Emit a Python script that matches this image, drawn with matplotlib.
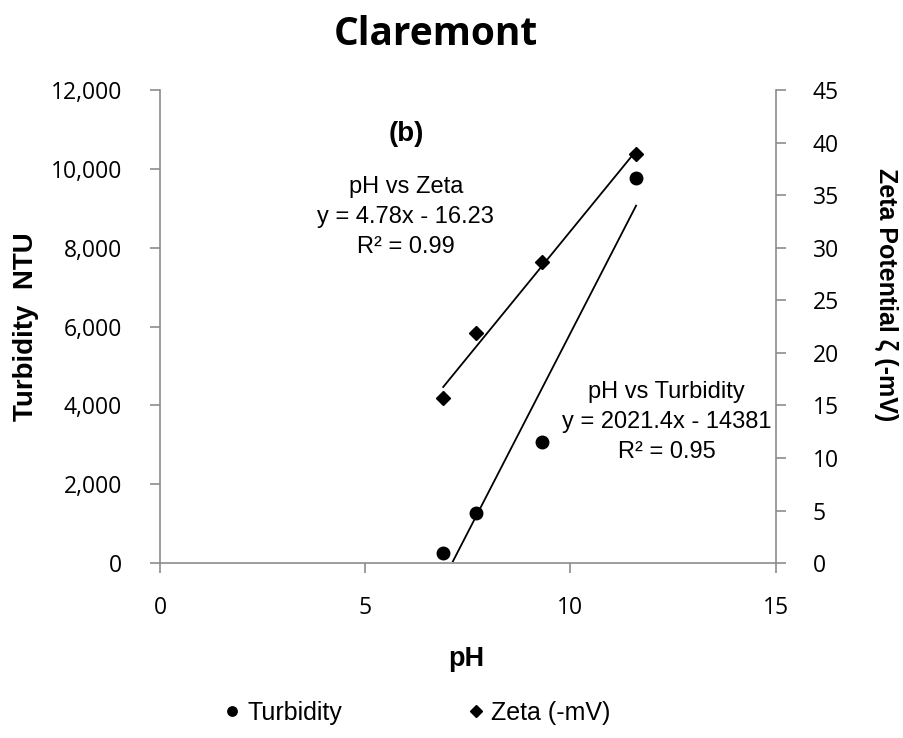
import matplotlib
matplotlib.use("Agg")
import matplotlib.pyplot as plt
import numpy as np
from matplotlib.ticker import FuncFormatter

ph = [6.9, 7.7, 9.3, 11.6]
turbidity = [250, 1270, 3070, 9770]
zeta = [15.7, 21.9, 28.6, 38.9]

turb_slope, turb_int = 2021.4, -14381
zeta_slope, zeta_int = 4.78, -16.23

fig = plt.figure(figsize=(9.04, 7.38), dpi=100)
ax = fig.add_axes([0.177, 0.237, 0.681, 0.641])
ax2 = ax.twinx()

tick_font = "Open Sans"
gray = "#8c8c8c"

# data
ax.plot(ph, turbidity, "o", color="black", markersize=9, label="Turbidity", zorder=3)
ax2.plot(ph, zeta, "D", color="black", markersize=7.5, label="Zeta (-mV)", zorder=3)

# trendlines
xs = np.linspace(min(ph), max(ph), 200)
ty = turb_slope * xs + turb_int
mask = ty >= 0
ax.plot(xs[mask], ty[mask], color="black", lw=1.3)
ax2.plot(xs, zeta_slope * xs + zeta_int, color="black", lw=1.3)

ax.set_xlim(0, 15)
ax.set_ylim(0, 12000)
ax2.set_ylim(0, 45)
ax.set_xticks([0, 5, 10, 15])
ax.set_yticks(range(0, 12001, 2000))
ax2.set_yticks(range(0, 46, 5))
ax.yaxis.set_major_formatter(FuncFormatter(lambda v, p: f"{int(v):,}"))

for a in (ax, ax2):
    a.spines["top"].set_visible(False)
    for s in a.spines.values():
        s.set_color(gray)
        s.set_linewidth(1.2)
    a.tick_params(colors=gray, labelcolor="black", labelsize=16.5, length=7.5, width=1.2)
    for lab in a.get_xticklabels() + a.get_yticklabels():
        lab.set_fontfamily(tick_font)
ax.spines["right"].set_visible(False)
ax2.spines["left"].set_visible(False)
ax2.spines["bottom"].set_visible(False)
ax.tick_params(axis="y", pad=20)
ax.tick_params(axis="x", pad=16)
ax2.tick_params(axis="y", pad=19)

ax.set_xlabel("pH", fontsize=19.5, fontweight="bold", family="Liberation Sans", va="center")
ax.xaxis.set_label_coords(0.498, -0.203)
ax.set_ylabel("Turbidity  NTU", fontsize=20, fontweight="bold", family="Liberation Sans",
              va="center")
ax.yaxis.set_label_coords(-0.2175, 0.5)
ax2.set_ylabel("Zeta Potential ζ (-mV)", fontsize=18, fontweight="bold", family="Liberation Sans",
               rotation=270, va="center")
ax2.yaxis.set_label_coords(1.180, 0.567)

fig.text(0.482, 0.939, "Claremont", ha="center", va="baseline", fontsize=28, fontweight="bold",
         family="Open Sans")

ax.text(5.99, 10884, "(b)", ha="center", va="center", fontsize=20, fontweight="bold",
        family="Liberation Sans")
ax.text(5.99, 8778, "pH vs Zeta\ny = 4.78x - 16.23\nR² = 0.99", ha="center", va="center",
        fontsize=17, family="Liberation Sans", linespacing=1.47)
ax.text(12.34, 3577, "pH vs Turbidity\ny = 2021.4x - 14381\nR² = 0.95", ha="center", va="center",
        fontsize=17, family="Liberation Sans", linespacing=1.47)

h1, l1 = ax.get_legend_handles_labels()
h2, l2 = ax2.get_legend_handles_labels()
fig.legend(h1 + h2, l1 + l2, loc="center left", bbox_to_anchor=(0.2497, 0.0339), ncol=2,
           frameon=False, borderpad=0, borderaxespad=0,
           prop={"family": "Liberation Sans", "size": 18}, handlelength=0.5, handletextpad=0.37,
           columnspacing=5.09, markerscale=0.75)

fig.savefig("out.png", dpi=100)
